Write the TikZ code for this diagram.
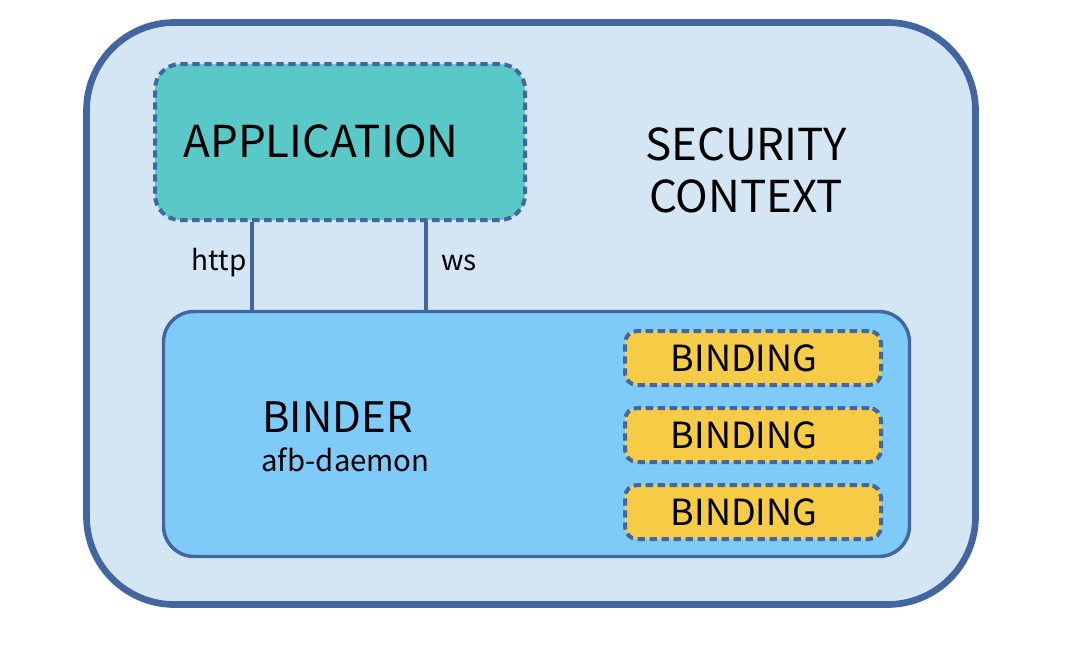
\documentclass[tikz,border=0pt]{standalone}
\usepackage{fontspec}
\setmainfont{Noto Sans CJK KR}
\usepackage{tikz}
\usetikzlibrary{shapes,positioning}

\definecolor{edgeblue}{RGB}{65,102,160}
\definecolor{ctxfill}{RGB}{212,230,244}
\definecolor{appfill}{RGB}{91,200,200}
\definecolor{binderfill}{RGB}{126,202,249}
\definecolor{bindfill}{RGB}{246,204,70}

\begin{document}
\begin{tikzpicture}[
    x=0.75pt, y=-0.75pt,
    context/.style={rectangle, draw=edgeblue, fill=ctxfill, line width=5pt, rounded corners=66pt, minimum width=666.75pt, minimum height=436.5pt, inner sep=0pt},
    appbox/.style={rectangle, draw=edgeblue, fill=appfill, line width=3pt, dash pattern=on 5.5pt off 3.5pt, rounded corners=19pt, minimum width=277.5pt, minimum height=117pt, inner sep=0pt},
    binderbox/.style={rectangle, draw=edgeblue, fill=binderfill, line width=2.6pt, rounded corners=23pt, minimum width=559.5pt, minimum height=183.75pt, inner sep=0pt},
    bindbox/.style={rectangle, draw=edgeblue, fill=bindfill, line width=3pt, dash pattern=on 5.5pt off 3.5pt, rounded corners=9pt, minimum width=192pt, minimum height=40.5pt, inner sep=0pt},
    bigtext/.style={inner sep=0pt, font=\fontsize{33}{39}\selectfont},
    midtext/.style={inner sep=0pt, font=\fontsize{27}{32}\selectfont},
    smalltext/.style={inner sep=0pt, font=\fontsize{21}{25}\selectfont},
    link/.style={draw=edgeblue, line width=2.6pt}
]
\useasboundingbox (0,0) rectangle (1070,644);

% Security context
\node[context] (ctx) at (531,313.5) {};
\node[bigtext, align=center] (ctxlabel) at (746,170) {SECURITY\\CONTEXT};

% Application
\node[appbox] (app) at (340,142) {};
\node[bigtext, anchor=base] (applabel) at (321,157) {APPLICATION};

% Binder
\node[binderbox] (binder) at (536.5,434) {};
\node[bigtext, font=\fontsize{31.5}{37}\selectfont, anchor=base west] (binderlabel) at (262,432) {BINDER};
\node[smalltext, font=\fontsize{22}{26}\selectfont, anchor=base west] (daemonlabel) at (261,471) {afb-daemon};

% Bindings
\node[bindbox] (bindA) at (753,358) {};
\node[midtext] (bindAlabel) at (744,358) {BINDING};
\node[bindbox] (bindB) at (753,435) {};
\node[midtext] (bindBlabel) at (744,435) {BINDING};
\node[bindbox] (bindC) at (753,512) {};
\node[midtext] (bindClabel) at (744,512) {BINDING};

% Links
\path (app.south west) ++(99,0) coordinate (httptop);
\path (app.south east) ++(-101,0) coordinate (wstop);
\draw[link] (httptop) -- (httptop |- binder.north);
\draw[link] (wstop) -- (wstop |- binder.north);

% Labels
\node[smalltext, anchor=base east] (httplabel) at (247,270) {http};
\node[smalltext, anchor=base west] (wslabel) at (441,270) {ws};

\end{tikzpicture}
\end{document}
